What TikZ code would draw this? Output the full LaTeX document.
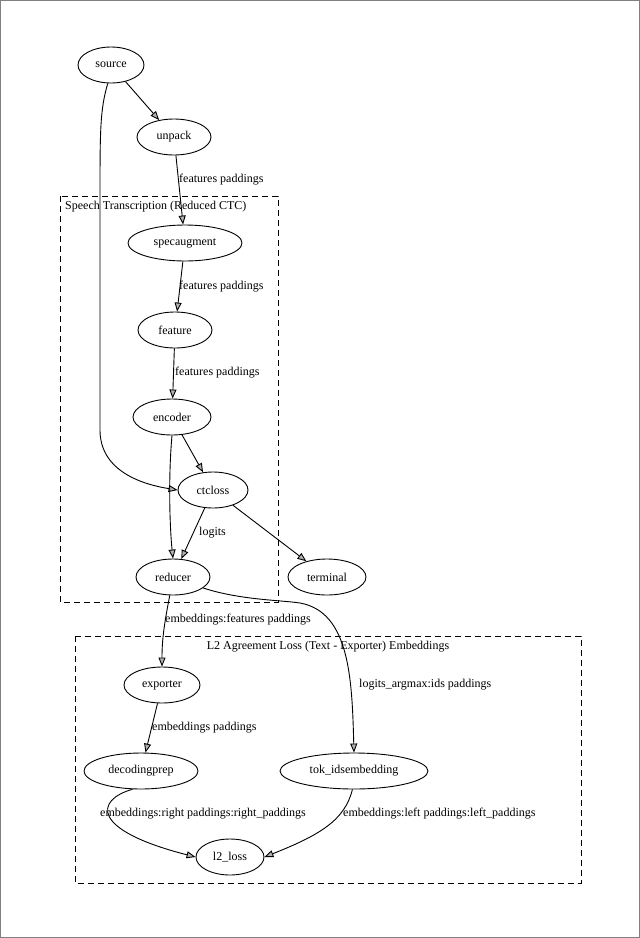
\documentclass[tikz,border=0pt]{standalone}
\usepackage{fontspec}
\setmainfont{Liberation Serif}
\usetikzlibrary{arrows.meta,shapes.geometric}
\begin{document}
\begin{tikzpicture}[x=1pt,y=-1pt,
  nd/.style={draw,ellipse,line width=0.9pt,minimum height=36pt,inner sep=0pt,font=\fontsize{12}{14}\selectfont},
  ed/.style={draw,line width=0.9pt,-{Triangle[length=9pt,width=7pt,fill=gray!60]}},
  lb/.style={font=\fontsize{12}{14}\selectfont,inner sep=1pt},
  cl/.style={draw,dashed,line width=0.9pt,dash pattern=on 6pt off 4pt}]
\useasboundingbox (0,0) rectangle (640,938);
\draw[gray,line width=1.5pt] (0.5,0.5) rectangle (639.5,937.5);
\draw[cl] (60,196) rectangle (278,602);
\draw[cl] (75,636) rectangle (581,883);
\node[lb,anchor=west] at (64,207) {Speech Transcription (Reduced CTC)};
\node[lb] at (328,647) {L2 Agreement Loss (Text - Exporter) Embeddings};
\node[nd,minimum width=66pt] (source) at (111,65) {source};
\node[nd,minimum width=74pt] (unpack) at (174,137) {unpack};
\node[nd,minimum width=114pt] (specaugment) at (185,243) {specaugment};
\node[nd,minimum width=74pt] (feature) at (175,330) {feature};
\node[nd,minimum width=78pt] (encoder) at (172,417) {encoder};
\node[nd,minimum width=70pt] (ctcloss) at (213,490) {ctcloss};
\node[nd,minimum width=74pt] (reducer) at (173,577) {reducer};
\node[nd,minimum width=78pt] (terminal) at (327,577) {terminal};
\node[nd,minimum width=76pt] (exporter) at (162,685) {exporter};
\node[nd,minimum width=114pt] (decodingprep) at (141,771) {decodingprep};
\node[nd,minimum width=148pt] (tok) at (354,771) {tok\_idsembedding};
\node[nd,minimum width=68pt] (l2) at (230,857) {l2\_loss};
\draw[ed] (source) -- (unpack);
\draw[ed] (source.-100) .. controls (100,110) and (100,130) .. (100,200) -- (100,430) .. controls (100,470) and (140,484) .. (ctcloss.west);
\draw[ed] (unpack) -- (specaugment);
\node[lb,anchor=west] at (178,180) {features paddings};
\draw[ed] (specaugment) -- (feature);
\node[lb,anchor=west] at (178,287) {features paddings};
\draw[ed] (feature) -- (encoder);
\node[lb,anchor=west] at (174,373) {features paddings};
\draw[ed] (encoder) -- (ctcloss);
\draw[ed] (encoder.south) .. controls (168,480) and (170,530) .. (reducer.north);
\draw[ed] (ctcloss) -- (reducer);
\node[lb,anchor=west] at (198,533) {logits};
\draw[ed] (ctcloss) -- (terminal);
\draw[ed] (reducer.-100) .. controls (164,625) and (162,640) .. (exporter.north);
\node[lb,anchor=west] at (164,620) {embeddings:features paddings};
\draw[ed] (reducer.-20) .. controls (240,600) and (280,600) .. (300,603) .. controls (350,612) and (352,680) .. (tok.north);
\node[lb,anchor=west] at (358,685) {logits\_argmax:ids paddings};
\draw[ed] (exporter) -- (decodingprep);
\node[lb,anchor=west] at (151,728) {embeddings paddings};
\draw[ed] (decodingprep.-115) .. controls (95,800) and (90,830) .. (l2.west);
\node[lb,anchor=west] at (99,814) {embeddings:right paddings:right\_paddings};
\draw[ed] (tok.-95) .. controls (345,820) and (320,835) .. (l2.east);
\node[lb,anchor=west] at (342,814) {embeddings:left paddings:left\_paddings};
\end{tikzpicture}
\end{document}
